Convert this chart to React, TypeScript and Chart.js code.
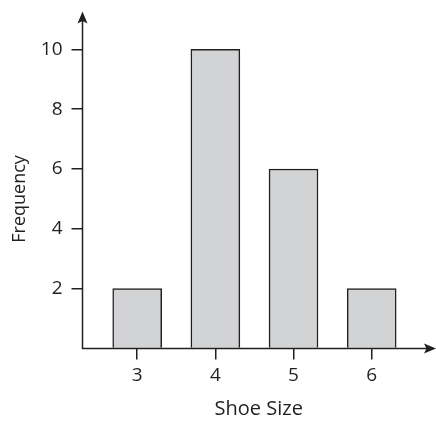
import React, { useEffect, useRef } from "react";
import { Chart, registerables } from "chart.js";

Chart.register(...registerables);

const shoeSizes = [3, 4, 5, 6];
const frequencies = [2, 10, 6, 2];
const xTitle = "Shoe Size";
const yTitle = "Frequency";

const INK = "#231f20";
const FILL = "#d1d3d4";
const FONT = "'Open Sans', 'Noto Sans', sans-serif";

const axesPlugin = {
  id: "axesArrows",
  afterDraw(chart: any) {
    const { ctx, chartArea } = chart;
    const { left, right, top, bottom } = chartArea;
    ctx.save();
    ctx.strokeStyle = INK;
    ctx.fillStyle = INK;
    ctx.lineWidth = 1.5;
    // axis lines
    ctx.beginPath();
    ctx.moveTo(left, top + 6);
    ctx.lineTo(left, bottom);
    ctx.lineTo(right - 6, bottom);
    ctx.stroke();
    // up arrow
    ctx.beginPath();
    ctx.moveTo(left, top - 2);
    ctx.lineTo(left + 5, top + 10);
    ctx.lineTo(left, top + 7.5);
    ctx.lineTo(left - 5, top + 10);
    ctx.closePath();
    ctx.fill();
    // right arrow
    ctx.beginPath();
    ctx.moveTo(right + 1, bottom);
    ctx.lineTo(right - 11, bottom - 5);
    ctx.lineTo(right - 8.5, bottom);
    ctx.lineTo(right - 11, bottom + 5);
    ctx.closePath();
    ctx.fill();
    // y title
    const yScale = chart.scales.y;
    const cy = yScale.getPixelForValue(5);
    ctx.translate(19.5, cy);
    ctx.rotate(-Math.PI / 2);
    ctx.font = `18px ${FONT}`;
    ctx.textAlign = "center";
    ctx.textBaseline = "middle";
    ctx.fillText(yTitle, 0, 0);
    ctx.restore();
  },
};

export default function App() {
  const canvasRef = useRef<HTMLCanvasElement | null>(null);

  useEffect(() => {
    const canvas = canvasRef.current;
    if (!canvas) return;
    const tickColor = (c: any) =>
      c.tick && c.tick.value === 0 ? "rgba(0,0,0,0)" : INK;
    const chart = new Chart(canvas, {
      type: "bar",
      data: {
        datasets: [
          {
            data: shoeSizes.map((s, i) => ({ x: s, y: frequencies[i] })),
            backgroundColor: FILL,
            borderColor: INK,
            borderWidth: 1.5,
            barThickness: 49,
          },
        ],
      },
      options: {
        animation: false,
        responsive: true,
        maintainAspectRatio: false,
        layout: { padding: { top: 13.5, right: 1, left: 0, bottom: 0 } },
        plugins: {
          legend: { display: false },
          tooltip: { enabled: false },
        },
        scales: {
          x: {
            type: "linear",
            min: 2.3,
            max: 6.81,
            offset: false,
            afterFit: (s: any) => {
              s.height = 72.5;
              s.paddingLeft = 0;
              s.paddingRight = 0;
            },
            border: { display: false },
            grid: {
              offset: false,
              drawOnChartArea: false,
              drawTicks: true,
              tickLength: 11,
              color: tickColor,
              lineWidth: 1.5,
            },
            ticks: {
              stepSize: 1,
              includeBounds: false,
              padding: 5,
              color: INK,
              font: { family: FONT, size: 19 },
              maxRotation: 0,
            },
            title: {
              display: true,
              text: xTitle,
              color: INK,
              font: { family: FONT, size: 20 },
              padding: { top: 0, bottom: 0 },
            },
          },
          y: {
            type: "linear",
            min: 0,
            max: 11.2,
            afterFit: (s: any) => {
              s.width = 82.5;
              s.paddingTop = 0;
              s.paddingBottom = 0;
            },
            border: { display: false },
            grid: {
              drawOnChartArea: false,
              drawTicks: true,
              tickLength: 11,
              color: tickColor,
              lineWidth: 1.5,
            },
            ticks: {
              stepSize: 2,
              includeBounds: false,
              padding: 9,
              color: INK,
              font: { family: FONT, size: 19 },
              callback: (v: any) => (v === 0 ? "" : String(v)),
            },
          },
        },
      },
      plugins: [axesPlugin],
    });
    return () => chart.destroy();
  }, []);

  return (
    <div
      style={{
        position: "fixed",
        left: 0,
        top: 0,
        width: 436,
        height: 421,
        background: "#fff",
      }}
    >
      <canvas ref={canvasRef} />
    </div>
  );
}
